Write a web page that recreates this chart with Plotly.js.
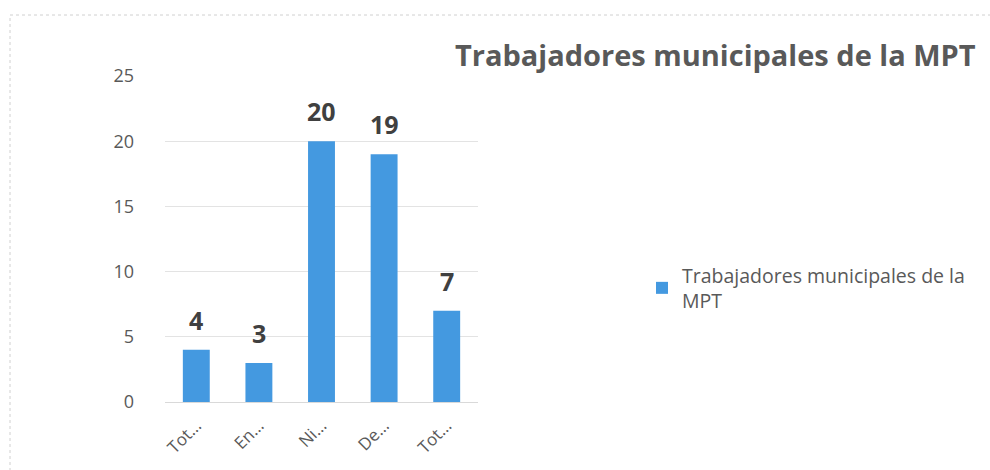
<!DOCTYPE html>
<html>
<head>
<meta charset="utf-8">
<script src="https://cdn.plot.ly/plotly-3.0.1.min.js"></script>
<style>html,body{margin:0;padding:0;background:#fff;}#chart{width:990px;height:470px;}</style>
</head>
<body>
<div id="chart"></div>
<script>
var categoryIds = ["c1", "c2", "c3", "c4", "c5"];
var tickLabels = ["Tot…", "En…", "Ni…", "De…", "Tot…"];
var values = [4, 3, 20, 19, 7];
var seriesName = "Trabajadores municipales de la MPT";
var chartTitle = "Trabajadores municipales de la MPT";
var yTicks = [0, 5, 10, 15, 20, 25];

var trace = {
  type: "bar",
  x: categoryIds,
  y: values,
  name: "Trabajadores municipales de la<br>MPT",
  marker: {color: "#4499e0"},
  width: 0.43,
  hoverinfo: "y"
};

var annotations = values.map(function (v, i) {
  return {
    x: categoryIds[i], y: v, xref: "x", yref: "y",
    text: String(v), showarrow: false, yanchor: "bottom", yshift: 11,
    font: {family: "Open Sans, sans-serif", size: 25, color: "#404040", weight: "bold"}
  };
});

var layout = {
  width: 990, height: 470,
  margin: {l: 165, r: 512, t: 76, b: 68},
  paper_bgcolor: "#ffffff", plot_bgcolor: "#ffffff",
  font: {family: "Open Sans, sans-serif", color: "#595959"},
  title: {
    text: "<b>" + chartTitle + "</b>",
    xref: "container", yref: "container",
    x: 455 / 990, xanchor: "left",
    y: 1 - 56 / 470, yanchor: "middle",
    font: {family: "Open Sans, sans-serif", size: 29, color: "#595959"}
  },
  xaxis: {
    type: "category",
    tickvals: categoryIds, ticktext: tickLabels,
    tickangle: -45,
    tickfont: {size: 17, color: "#595959"},
    showgrid: false, zeroline: false,
    showline: true, linecolor: "#d9d9d9", linewidth: 1,
    ticks: "", ticklabelstandoff: 6
  },
  yaxis: {
    range: [0, 25],
    tickvals: yTicks,
    tickfont: {size: 18, color: "#595959"},
    showgrid: true, gridcolor: "#e3e3e3", gridwidth: 1,
    zeroline: false, showline: false, ticks: "", ticklabelstandoff: 30
  },
  showlegend: true,
  legend: {
    x: (642 - 165) / 313, y: (402 - 256) / 326, xanchor: "left", yanchor: "top",
    font: {size: 19.5, color: "#595959"},
    bgcolor: "rgba(0,0,0,0)"
  },
  annotations: annotations,
  shapes: [{
    type: "rect", xref: "paper", yref: "paper",
    x0: (10 - 165) / 313, x1: (1000 - 165) / 313,
    y0: (402 - 480) / 326, y1: (402 - 15) / 326,
    line: {color: "#d0d0d0", width: 1, dash: "dot"}
  }],
  bargap: 0.57
};

Plotly.newPlot("chart", [trace], layout, {staticPlot: true, displayModeBar: false});
</script>
</body>
</html>
